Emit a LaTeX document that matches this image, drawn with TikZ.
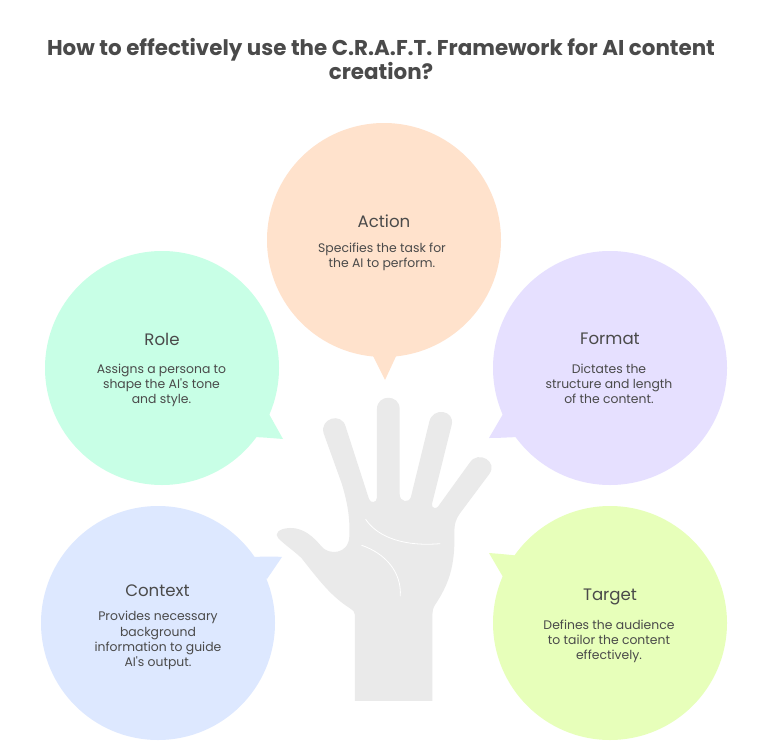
\documentclass[tikz,border=0pt]{standalone}
\usepackage{fontspec}
\setmainfont{Poppins}[Ligatures=TeXOff]
\definecolor{ink}{HTML}{4A4A4A}
\definecolor{actioncol}{HTML}{FFE2CC}
\definecolor{rolecol}{HTML}{C8FFE6}
\definecolor{formatcol}{HTML}{E6E0FF}
\definecolor{contextcol}{HTML}{DDE8FF}
\definecolor{targetcol}{HTML}{E7FFBA}
\definecolor{handcol}{HTML}{EAEAEA}
\tikzset{
  headtext/.style={text=ink,font=\fontsize{16.6}{20}\selectfont,inner sep=0pt,align=center},
  bodytext/.style={text=ink,font=\fontsize{12.4}{15.1}\selectfont,inner sep=0pt,align=center},
  titletext/.style={text=ink,font=\fontsize{21.4}{24.5}\selectfont\bfseries,inner sep=0pt,align=center},
  palmline/.style={draw=white,line width=0.8pt,line cap=round}
}
\begin{document}
\begin{tikzpicture}[x=1pt,y=-1pt]
\useasboundingbox (0,0) rectangle (768,752);
\fill[white] (0,0) rectangle (768,752);
\node[titletext] (title) at (381,59) {How to effectively use the C.R.A.F.T. Framework for AI content\\creation?};
% bubbles
\fill[actioncol] (384,240) circle (117);
\fill[actioncol] (371,352) -- (385,380) -- (398,352) -- cycle;
\fill[rolecol] (162,368) circle (117);
\fill[rolecol] (269,414) -- (283,439) .. controls (270,438) and (260,437) .. (250,437) -- cycle;
\fill[formatcol] (610,368) circle (117);
\fill[formatcol] (503,414) -- (489,438) .. controls (502,438) and (512,437) .. (522,437) -- cycle;
\fill[contextcol] (158,623) circle (117);
\fill[contextcol] (267,579) -- (282,557) .. controls (270,556) and (260,557) .. (245,557) -- cycle;
\fill[targetcol] (610,623) circle (117);
\fill[targetcol] (503,577) -- (489,553) .. controls (502,554) and (512,555) .. (530,557) -- cycle;
% hand
\begin{scope}[shift={(260,380)},x=0.3333pt,y=-0.3333pt]
\fill[handcol] (285,963) -- (285,705) .. controls (285,695) and (278,690) .. (270,685)
 .. controls (215,650) and (180,605) .. (125,535)
 .. controls (105,515) and (75,495) .. (55,475)
 .. controls (42,462) and (55,445) .. (90,444)
 .. controls (130,443) and (160,470) .. (185,500)
 .. controls (205,525) and (265,525) .. (268,470)
 .. controls (270,420) and (265,375) .. (245,310)
 -- (191,160) .. controls (178,115) and (245,95) .. (257,140)
 -- (327,357) .. controls (331,370) and (351,370) .. (351,352)
 -- (351,87) .. controls (351,42) and (419,42) .. (419,87)
 -- (419,342) .. controls (419,368) and (449,370) .. (453,350)
 -- (508,125) .. controls (518,80) and (586,90) .. (575,135)
 -- (516,372) .. controls (514,384) and (528,388) .. (534,380)
 -- (630,247) .. controls (655,210) and (715,245) .. (688,282)
 -- (600,400) .. controls (588,417) and (583,430) .. (583,460)
 .. controls (586,560) and (565,615) .. (525,675)
 .. controls (519,685) and (517,695) .. (517,705)
 -- (517,963) -- cycle;
\draw[palmline] (317,418) .. controls (355,475) and (440,500) .. (540,491);
\draw[palmline] (305,496) .. controls (375,520) and (425,575) .. (421,648);
\end{scope}
% labels
\node[headtext] (actionh) at (384,221) {Action};
\node[bodytext] (actionb) at (382,257) {Specifies the task for\\the AI to perform.};
\node[headtext] (roleh) at (162,339) {Role};
\node[bodytext] (roleb) at (161.5,385) {Assigns a persona to\\shape the AI's tone\\and style.};
\node[headtext] (formath) at (610,339) {Format};
\node[bodytext] (formatb) at (609,384) {Dictates the\\structure and length\\of the content.};
\node[headtext] (contexth) at (157.5,590.5) {Context};
\node[bodytext] (contextb) at (158,640.5) {Provides necessary\\background\\information to guide\\AI's output.};
\node[headtext] (targeth) at (610,597) {Target};
\node[bodytext] (targetb) at (609,641) {Defines the audience\\to tailor the content\\effectively.};
\end{tikzpicture}
\end{document}
